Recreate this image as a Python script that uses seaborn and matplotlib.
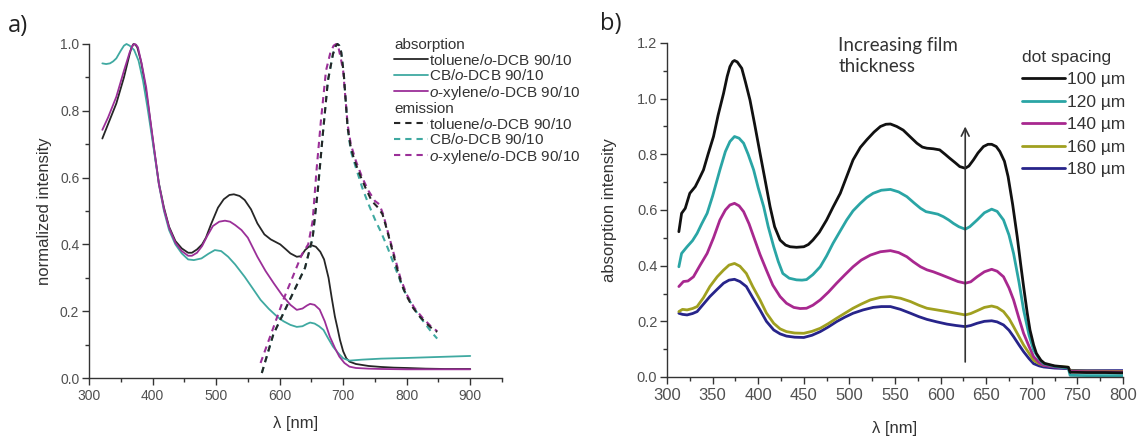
import numpy as np
import pandas as pd
import matplotlib
matplotlib.use("Agg")
import matplotlib.pyplot as plt
from matplotlib.lines import Line2D
from matplotlib.ticker import MultipleLocator, FormatStrFormatter
import seaborn as sns

# ---------------- panel a: normalized absorption / emission ----------------
abs_tol_nm = [321, 330, 343, 355, 364, 367, 370, 373, 376, 382, 389, 395, 402, 410, 418, 426, 436, 446,
              456, 462, 470, 478, 484, 488, 492, 503, 512, 521, 528, 537, 545, 555, 565, 576, 586, 596,
              601, 610, 617, 627, 634, 640, 646, 651, 657, 664, 670, 677, 682, 687, 691, 695, 700, 705,
              710, 720, 740, 760, 780, 800, 830, 860, 900]
abs_tol = [0.717, 0.76, 0.822, 0.9, 0.97, 0.99, 1.0, 0.998, 0.99, 0.947, 0.87, 0.79, 0.69, 0.583, 0.51,
           0.453, 0.41, 0.388, 0.375, 0.375, 0.385, 0.40, 0.42, 0.44, 0.46, 0.51, 0.535, 0.548, 0.55,
           0.545, 0.533, 0.505, 0.463, 0.43, 0.415, 0.405, 0.40, 0.385, 0.373, 0.363, 0.365, 0.383,
           0.393, 0.397, 0.393, 0.378, 0.355, 0.30, 0.24, 0.184, 0.15, 0.114, 0.08, 0.059, 0.049, 0.042,
           0.036, 0.033, 0.031, 0.030, 0.028, 0.027, 0.027]

abs_cb_nm = [321, 327, 333, 338, 343, 350, 355, 359, 364, 371, 378, 385, 392, 400, 410, 418, 426, 436,
             446, 456, 465, 477, 488, 498, 508, 519, 530, 545, 557, 570, 583, 596, 606, 617, 627, 636,
             643, 648, 655, 662, 669, 676, 684, 692, 700, 710, 730, 760, 800, 850, 900]
abs_cb = [0.942, 0.94, 0.942, 0.948, 0.957, 0.98, 0.995, 1.0, 0.995, 0.982, 0.95, 0.89, 0.81, 0.71, 0.58,
          0.50, 0.443, 0.40, 0.373, 0.355, 0.353, 0.358, 0.372, 0.383, 0.38, 0.363, 0.34, 0.303, 0.27,
          0.234, 0.207, 0.184, 0.17, 0.159, 0.153, 0.155, 0.162, 0.166, 0.163, 0.155, 0.144, 0.12, 0.094,
          0.075, 0.059, 0.052, 0.055, 0.058, 0.060, 0.063, 0.066]

abs_xyl_nm = [321, 330, 343, 355, 364, 368, 371, 374, 377, 383, 390, 396, 403, 410, 418, 426, 436, 446,
              456, 462, 470, 478, 486, 495, 505, 514, 522, 530, 540, 550, 565, 578, 591, 604, 617, 627,
              636, 643, 648, 655, 663, 671, 679, 687, 694, 702, 710, 720, 740, 760, 800, 850, 900]
abs_xyl = [0.743, 0.78, 0.842, 0.92, 0.975, 0.993, 1.0, 0.998, 0.99, 0.94, 0.87, 0.78, 0.68, 0.58, 0.505,
           0.45, 0.405, 0.38, 0.366, 0.366, 0.375, 0.395, 0.425, 0.455, 0.468, 0.471, 0.468, 0.458,
           0.443, 0.42, 0.363, 0.32, 0.283, 0.248, 0.219, 0.204, 0.208, 0.217, 0.222, 0.219, 0.205, 0.17,
           0.124, 0.09, 0.064, 0.045, 0.034, 0.030, 0.028, 0.027, 0.026, 0.026, 0.026]

em_tol_nm = [572, 590, 615, 640, 652, 660, 668, 676, 684, 688, 691, 694, 697, 701, 707, 712, 718, 726,
             735, 745, 755, 762, 768, 775, 783, 792, 800, 810, 820, 830, 840, 848]
em_tol = [0.015, 0.13, 0.23, 0.33, 0.42, 0.56, 0.73, 0.89, 0.97, 0.993, 1.0, 0.995, 0.975, 0.91, 0.75,
          0.69, 0.65, 0.61, 0.57, 0.53, 0.51, 0.49, 0.45, 0.40, 0.34, 0.28, 0.245, 0.21, 0.185, 0.165,
          0.148, 0.138]

em_cb_nm = [572, 590, 615, 640, 652, 660, 668, 676, 684, 688, 691, 694, 697, 701, 707, 712, 720, 730,
            740, 750, 760, 770, 782, 795, 805, 818, 830, 840, 848]
em_cb = [0.015, 0.13, 0.23, 0.33, 0.42, 0.56, 0.73, 0.89, 0.97, 0.993, 1.0, 0.995, 0.975, 0.91, 0.75,
         0.68, 0.63, 0.57, 0.52, 0.475, 0.435, 0.39, 0.33, 0.265, 0.23, 0.19, 0.16, 0.135, 0.118]

em_xyl_nm = [570, 590, 606, 620, 635, 645, 652, 658, 665, 673, 680, 685, 689, 692, 696, 700, 707, 712,
             720, 730, 740, 750, 757, 763, 770, 780, 790, 800, 812, 825, 838, 848]
em_xyl = [0.045, 0.15, 0.235, 0.30, 0.37, 0.40, 0.47, 0.62, 0.77, 0.92, 0.975, 0.995, 1.0, 0.995, 0.96,
          0.92, 0.76, 0.70, 0.65, 0.60, 0.56, 0.53, 0.52, 0.49, 0.44, 0.37, 0.30, 0.25, 0.21, 0.18,
          0.155, 0.14]

solvent_labels = [r"toluene/$o$-DCB 90/10", r"CB/$o$-DCB 90/10", r"$o$-xylene/$o$-DCB 90/10"]

# ---------------- panel b: absorption vs dot spacing ----------------
spacing_labels = ["100 µm", "120 µm", "140 µm", "160 µm", "180 µm"]

b100_nm = [313, 316, 320, 325, 331, 335, 340, 345, 351, 356, 362, 366, 369, 372, 374, 377, 382, 386,
           391, 396, 402, 408, 413, 418, 424, 430, 435, 442, 450, 455, 460, 467, 475, 482, 490, 497,
           504, 512, 519, 527, 534, 540, 545, 552, 559, 566, 574, 580, 585, 592, 599, 605, 610, 616,
           621, 627, 631, 636, 641, 647, 652, 656, 661, 665, 670, 674, 679, 684, 688, 691, 695, 698,
           702, 705, 710, 714, 725, 740, 742, 760, 780, 800]
b100 = [0.522, 0.588, 0.606, 0.66, 0.684, 0.71, 0.744, 0.80, 0.864, 0.94, 1.019, 1.08, 1.115, 1.133,
        1.137, 1.132, 1.109, 1.06, 0.995, 0.91, 0.804, 0.70, 0.612, 0.54, 0.492, 0.474, 0.468, 0.466,
        0.468, 0.476, 0.492, 0.52, 0.564, 0.61, 0.66, 0.72, 0.78, 0.825, 0.852, 0.88, 0.9, 0.908, 0.909,
        0.9, 0.887, 0.865, 0.84, 0.826, 0.822, 0.82, 0.816, 0.80, 0.786, 0.77, 0.756, 0.75, 0.758, 0.78,
        0.805, 0.828, 0.836, 0.836, 0.828, 0.81, 0.775, 0.72, 0.62, 0.504, 0.40, 0.325, 0.23, 0.169,
        0.115, 0.085, 0.06, 0.049, 0.04, 0.035, 0.017, 0.016, 0.016, 0.015]

b120_nm = [313, 316, 322, 328, 333, 338, 344, 350, 358, 364, 369, 374, 379, 384, 389, 395, 400, 406,
           411, 417, 422, 427, 434, 442, 448, 453, 460, 468, 475, 482, 490, 497, 504, 512, 519, 526,
           535, 545, 554, 563, 571, 578, 584, 590, 597, 603, 609, 614, 620, 627, 632, 640, 648, 656,
           662, 669, 675, 680, 686, 691, 697, 702, 708, 713, 725, 740, 742, 760, 780, 800]
b120 = [0.396, 0.444, 0.468, 0.49, 0.516, 0.55, 0.588, 0.65, 0.744, 0.81, 0.846, 0.864, 0.858, 0.84,
        0.80, 0.744, 0.68, 0.612, 0.54, 0.468, 0.415, 0.372, 0.355, 0.349, 0.348, 0.35, 0.368, 0.396,
        0.435, 0.48, 0.525, 0.564, 0.597, 0.624, 0.645, 0.66, 0.671, 0.674, 0.665, 0.648, 0.625, 0.606,
        0.594, 0.59, 0.585, 0.576, 0.564, 0.552, 0.54, 0.531, 0.54, 0.564, 0.59, 0.603, 0.595, 0.564,
        0.51, 0.444, 0.34, 0.241, 0.15, 0.097, 0.065, 0.048, 0.038, 0.032, 0.006, 0.005, 0.005, 0.005]

b140_nm = [313, 318, 323, 329, 336, 344, 351, 358, 364, 369, 374, 379, 384, 390, 395, 402, 409, 416,
           424, 431, 439, 446, 453, 460, 468, 477, 486, 495, 504, 513, 523, 534, 545, 554, 563, 570,
           578, 585, 592, 600, 610, 619, 627, 633, 640, 648, 656, 662, 669, 675, 680, 686, 691, 697,
           702, 708, 713, 725, 740, 742, 760, 800]
b140 = [0.325, 0.343, 0.345, 0.36, 0.40, 0.444, 0.50, 0.564, 0.60, 0.618, 0.624, 0.615, 0.594, 0.55,
        0.504, 0.44, 0.384, 0.33, 0.289, 0.265, 0.25, 0.246, 0.247, 0.258, 0.277, 0.305, 0.337, 0.367,
        0.396, 0.42, 0.438, 0.45, 0.454, 0.447, 0.432, 0.414, 0.396, 0.385, 0.378, 0.368, 0.355, 0.343,
        0.337, 0.342, 0.36, 0.378, 0.387, 0.38, 0.36, 0.32, 0.277, 0.21, 0.157, 0.11, 0.073, 0.052,
        0.042, 0.036, 0.032, 0.02, 0.019, 0.018]

b160_nm = [313, 317, 322, 328, 333, 340, 347, 355, 362, 368, 374, 380, 387, 394, 402, 409, 417, 424,
           431, 440, 450, 459, 468, 477, 486, 495, 504, 513, 523, 534, 545, 556, 567, 576, 585, 596,
           607, 617, 627, 633, 640, 648, 656, 662, 669, 675, 680, 686, 691, 697, 702, 708, 713, 725,
           740, 742, 760, 800]
b160 = [0.235, 0.243, 0.241, 0.246, 0.253, 0.285, 0.325, 0.36, 0.384, 0.402, 0.408, 0.398, 0.372, 0.325,
        0.277, 0.23, 0.193, 0.173, 0.163, 0.158, 0.157, 0.164, 0.175, 0.192, 0.211, 0.229, 0.247, 0.262,
        0.277, 0.286, 0.289, 0.283, 0.271, 0.258, 0.247, 0.241, 0.235, 0.229, 0.223, 0.228, 0.238,
        0.25, 0.255, 0.25, 0.235, 0.21, 0.181, 0.145, 0.115, 0.085, 0.06, 0.048, 0.042, 0.038, 0.035,
        0.022, 0.021, 0.02]

b180_nm = [313, 317, 322, 328, 333, 340, 347, 355, 362, 368, 374, 380, 387, 394, 402, 409, 417, 424,
           431, 440, 450, 459, 468, 477, 486, 495, 504, 515, 526, 535, 545, 556, 567, 576, 585, 596,
           607, 617, 627, 633, 640, 648, 656, 662, 669, 675, 680, 686, 691, 697, 702, 708, 713, 725,
           740, 742, 760, 800]
b180 = [0.229, 0.225, 0.223, 0.228, 0.235, 0.262, 0.289, 0.315, 0.337, 0.348, 0.351, 0.343, 0.325, 0.285,
        0.241, 0.2, 0.169, 0.155, 0.147, 0.143, 0.142, 0.15, 0.163, 0.18, 0.199, 0.215, 0.229, 0.241,
        0.25, 0.253, 0.253, 0.243, 0.229, 0.217, 0.207, 0.198, 0.19, 0.185, 0.181, 0.185, 0.193, 0.2,
        0.202, 0.198, 0.187, 0.168, 0.145, 0.115, 0.091, 0.066, 0.048, 0.04, 0.036, 0.032, 0.03, 0.024,
        0.023, 0.023]

arrow_nm = 627
arrow_from, arrow_to = 0.054, 0.90

# ---------------- styling ----------------
sns.set_theme(style="ticks")
plt.rcParams["font.family"] = ["Liberation Sans", "DejaVu Sans"]
plt.rcParams["mathtext.fontset"] = "custom"
plt.rcParams["mathtext.rm"] = "Liberation Sans"
plt.rcParams["mathtext.it"] = "Liberation Sans:italic"
plt.rcParams["axes.edgecolor"] = "#333333"
plt.rcParams["xtick.color"] = "#333333"
plt.rcParams["ytick.color"] = "#333333"

c_blk_a, c_teal_a, c_mag_a = "#262626", "#3fa9a1", "#9b2f98"
b_colors = ["#111111", "#2aa5a5", "#a8288f", "#a0a020", "#27248a"]
tick_grey = "#505050"

fig = plt.figure(figsize=(11.39, 4.37), dpi=100)
W, H = 1139, 437
ax_a = fig.add_axes([89 / W, 1 - 378 / H, (502 - 89) / W, (378 - 44) / H])
ax_b = fig.add_axes([667 / W, 1 - 377 / H, (1123 - 667) / W, (377 - 43) / H])

# panel a curves
abs_sets = [(abs_tol_nm, abs_tol, c_blk_a), (abs_cb_nm, abs_cb, c_teal_a), (abs_xyl_nm, abs_xyl, c_mag_a)]
em_sets = [(em_cb_nm, em_cb, c_teal_a), (em_xyl_nm, em_xyl, c_mag_a), (em_tol_nm, em_tol, c_blk_a)]
for x, y, c in abs_sets:
    sns.lineplot(x=x, y=y, ax=ax_a, color=c, lw=1.3, sort=False, estimator=None, clip_on=False)
for x, y, c in em_sets:
    sns.lineplot(x=x, y=y, ax=ax_a, color=c, lw=1.5, sort=False, estimator=None, clip_on=False,
                 linestyle=(0, (3, 2.4)))

ax_a.set_xlim(300, 950)
ax_a.set_ylim(0, 1.0)
ax_a.xaxis.set_major_locator(MultipleLocator(100))
ax_a.xaxis.set_minor_locator(MultipleLocator(50))
ax_a.yaxis.set_major_locator(MultipleLocator(0.2))
ax_a.yaxis.set_minor_locator(MultipleLocator(0.1))
ax_a.yaxis.set_major_formatter(FormatStrFormatter("%.1f"))
ax_a.set_xlabel("λ [nm]", fontsize=12, color="#333333", labelpad=9)
ax_a.set_ylabel("normalized intensity", fontsize=12, color="#333333", labelpad=6)

# panel b curves
b_sets = [(b100_nm, b100), (b120_nm, b120), (b140_nm, b140), (b160_nm, b160), (b180_nm, b180)]
for (x, y), c in zip(b_sets[::-1], b_colors[::-1]):
    sns.lineplot(x=x, y=y, ax=ax_b, color=c, lw=2.0, sort=False, estimator=None)

ax_b.set_xlim(300, 800)
ax_b.set_ylim(0, 1.2)
ax_b.xaxis.set_major_locator(MultipleLocator(50))
ax_b.xaxis.set_minor_locator(MultipleLocator(25))
ax_b.yaxis.set_major_locator(MultipleLocator(0.2))
ax_b.yaxis.set_minor_locator(MultipleLocator(0.1))
ax_b.yaxis.set_major_formatter(FormatStrFormatter("%.1f"))
ax_b.set_xlabel("λ [nm]", fontsize=12, color="#333333", labelpad=13)
ax_b.set_ylabel("absorption intensity", fontsize=12, color="#333333", labelpad=14)

ax_b.annotate("", xy=(arrow_nm, arrow_to), xytext=(arrow_nm, arrow_from),
              arrowprops=dict(arrowstyle="->", color="#333333", lw=1.2, shrinkA=0, shrinkB=0,
                              mutation_scale=14))
ax_b.text(488, 1.222, "Increasing film\nthickness", fontsize=13.5, family="Lato",
          color="#333333", va="top", ha="left", linespacing=1.3)

for ax, xs, ys in [(ax_a, 10, 10), (ax_b, 12, 10.5)]:
    sns.despine(ax=ax)
    ax.spines["left"].set_linewidth(1.0)
    ax.spines["bottom"].set_linewidth(1.0)
    ax.tick_params(which="major", direction="out", length=5, width=1.0)
    ax.tick_params(which="minor", direction="out", length=3, width=1.0)
    ax.tick_params(axis="x", which="major", labelsize=xs, labelcolor=tick_grey, pad=3)
    ax.tick_params(axis="y", which="major", labelsize=ys, labelcolor=tick_grey, pad=2)

# legends of panel a
abs_handles = [Line2D([], [], color=c, lw=1.3) for c in (c_blk_a, c_teal_a, c_mag_a)]
em_handles = [Line2D([], [], color=c, lw=1.5, linestyle=(0, (3, 2.4))) for c in (c_blk_a, c_teal_a, c_mag_a)]
leg_kw = dict(frameon=False, fontsize=11, title_fontsize=11, handlelength=2.2, handletextpad=0.1,
              labelspacing=0.04, borderpad=0, borderaxespad=0, alignment="left", loc="upper left")
leg1 = fig.legend(abs_handles, solvent_labels, title="absorption",
                  bbox_to_anchor=(394 / W, 1 - 38 / H), **leg_kw)
leg2 = fig.legend(em_handles, solvent_labels, title="emission",
                  bbox_to_anchor=(394 / W, 1 - 102 / H), **leg_kw)
for lg in (leg1, leg2):
    lg.get_title().set_color("#333333")
    for t in lg.get_texts():
        t.set_color("#333333")

# legend of panel b
sp_handles = [Line2D([], [], color=c, lw=2.0) for c in b_colors]
leg3 = fig.legend(sp_handles, spacing_labels, title="dot spacing", frameon=False, fontsize=12.5,
                  title_fontsize=12.5, handlelength=2.5, handletextpad=0.1, labelspacing=0.42,
                  borderpad=0, borderaxespad=0, alignment="left", loc="upper left",
                  bbox_to_anchor=(1022 / W, 1 - 50 / H))
leg3.get_title().set_color("#333333")
for t in leg3.get_texts():
    t.set_color("#333333")

fig.text(8 / W, 1 - 26 / H, "a)", fontsize=17, family="Open Sans", va="center", ha="left", color="#222222")
fig.text(600 / W, 1 - 24 / H, "b)", fontsize=17, family="Open Sans", va="center", ha="left", color="#222222")

fig.savefig("out.png", dpi=100)
